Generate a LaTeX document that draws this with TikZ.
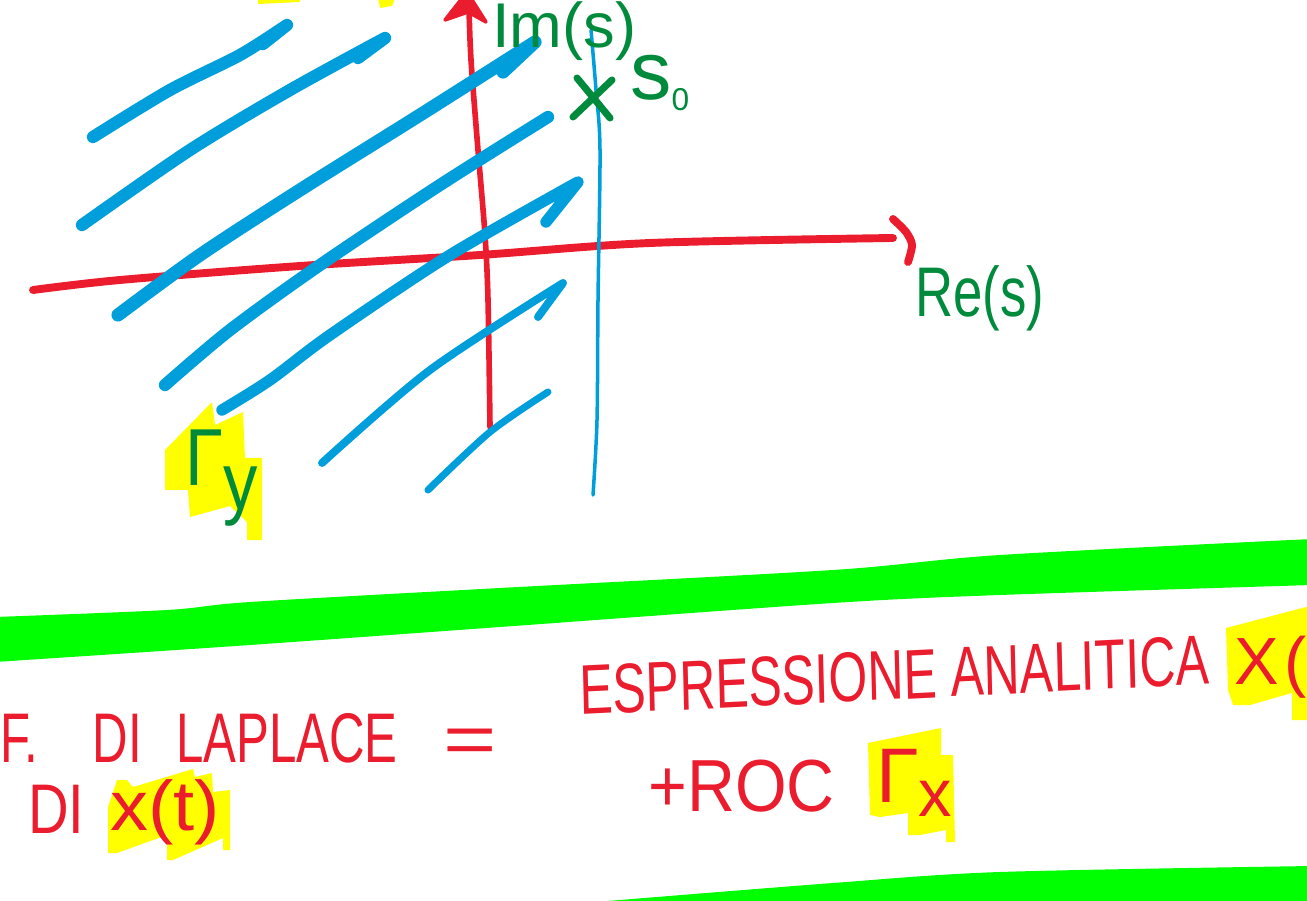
\documentclass[tikz,border=0pt]{standalone}
\usepackage{fontspec}
\setmainfont{Liberation Sans}
\usepackage{xcolor}
\definecolor{inkred}{RGB}{235,28,45}
\definecolor{inkblue}{RGB}{0,158,218}
\definecolor{inkgreen}{RGB}{0,138,60}
\definecolor{bandgreen}{RGB}{0,255,0}
\definecolor{marker}{RGB}{255,255,0}

\begin{document}
\begin{tikzpicture}[
        x=0.02cm, y=-0.02cm,
        ink/.style={line cap=round, line join=round},
        redaxis/.style={ink, draw=inkred},
        rocstroke/.style={ink, draw=inkblue, line width=7pt},
        hand/.style={font=\fontsize{40}{44}\selectfont, inner sep=0pt, anchor=base west},
        redtxt/.style={hand, text=inkred},
        greentxt/.style={hand, text=inkgreen}
      ]
        \useasboundingbox (0,0) rectangle (1307,901);
        \clip (0,0) rectangle (1307,901);

        \fill[marker] (258,-2) -- (258,4) -- (300,2) -- (300,-2) -- cycle;
        \fill[marker] (378,-2) -- (380,8) -- (392,6) -- (395,-2) -- cycle;
        \fill[marker] (165,450) -- (212,402) -- (215,425) -- (243,412) -- (245,458) -- (262,458) -- (262,540) -- (247,540) -- (247,522) -- (230,506) -- (190,517) -- (188,490) -- (165,490) -- cycle;
        \fill[marker] (108,807) -- (117,780) -- (127,780) -- (133,787) -- (193,769) -- (195,777) -- (212,773) -- (213,792) -- (230,790) -- (230,850) -- (223,850) -- (223,838) -- (173,860) -- (167,860) -- (167,835) -- (117,853) -- (108,853) -- cycle;
        \fill[marker] (868,743) -- (941,728) -- (941,755) -- (953,755) -- (955,842) -- (946,842) -- (946,830) -- (920,835) -- (908,835) -- (908,813) -- (880,817) -- (870,815) -- cycle;
        \fill[marker] (1226,628) -- (1310,606) -- (1310,720) -- (1292,720) -- (1292,693) -- (1250,705) -- (1233,705) -- (1228,690) -- cycle;

        \fill[bandgreen] plot[smooth] coordinates {(-5,617) (167,610) (250,602) (500,588) (833,570) (1000,555) (1312,539)}
            -- plot[smooth] coordinates {(1312,585) (1000,595) (833,603) (500,627) (250,645) (-5,662)} -- cycle;
        \fill[bandgreen] plot[smooth] coordinates {(583,903) (833,883) (1000,872) (1312,866)} -- (1312,905) -- cycle;

        \draw[redaxis, line width=3.2pt] plot[smooth] coordinates {(490,427) (488,300) (485,235) (478,150) (471,60) (469,8)};
        \fill[inkred, draw=inkred, ink, line width=2pt] (445,20) -- (467,-8) -- (486,22) -- (468,12) -- cycle;
        \draw[redaxis, line width=4.5pt] plot[smooth] coordinates {(33,290) (120,280) (300,266) (480,255) (650,243) (893,238)};
        \draw[redaxis, line width=4.5pt] plot[smooth] coordinates {(893,219) (906,232) (912,245) (908,262)};

        \draw[ink, draw=inkblue, line width=2pt] plot[smooth] coordinates {(591,30) (596,90) (600,150) (598,300) (597,420) (593,495)};

        \draw[rocstroke] plot[smooth] coordinates {(93,137) (170,90) (240,55) (287,25)} -- (263,44);
        \draw[rocstroke] plot[smooth] coordinates {(82,225) (190,150) (290,90) (385,38)} -- (358,58);
        \draw[rocstroke, line width=7.5pt] plot[smooth] coordinates {(118,315) (200,255) (300,190) (420,115) (535,42)} -- (503,72);
        \draw[rocstroke] plot[smooth] coordinates {(165,385) (230,330) (320,265) (440,185) (548,117)};
        \draw[rocstroke, line width=6.5pt] plot[smooth] coordinates {(222,410) (270,380) (330,335) (450,255) (578,182)} -- (546,222);
        \draw[rocstroke, line width=4.5pt] plot[smooth] coordinates {(322,463) (430,370) (563,283)} -- (538,317);
        \draw[rocstroke, line width=4pt] plot[smooth] coordinates {(428,490) (490,432) (548,392)};

        \draw[ink, draw=inkgreen, line width=4pt] (577,78) -- (610,118);
        \draw[ink, draw=inkgreen, line width=4pt] (612,80) -- (573,117);

        \node[greentxt, font=\fontsize{36}{40}\selectfont] (imlbl) at (492,48) {Im(s)};
        \node[greentxt, font=\fontsize{47}{50}\selectfont] (s0lbl) at (630,100) {s\raisebox{-5.7pt}{\fontsize{18}{18}\selectfont 0}};
        \node[greentxt, xscale=0.75] (relbl) at (915,317) {Re(s)};
        \node[greentxt, font=\fontsize{46}{50}\selectfont, xscale=0.85] (gammay) at (185,485) {Γ\raisebox{-14pt}{y}};

        \node[redtxt, xscale=0.7] (laplace) at (0,762) {F.\hspace{44pt}DI\hspace{28pt}LAPLACE};
        \node[redtxt, xscale=1.3, anchor=base] (eqsign) at (470,763) {=};
        \node[redtxt, xscale=0.8] (dilbl) at (28,833) {DI};
        \node[redtxt, xscale=1.08] (xtlbl) at (110,830) {x(t)};
        \node[redtxt, xscale=0.71, rotate=2] (esprlbl) at (580,715) {ESPRESSIONE ANALITICA};
        \node[redtxt, font=\fontsize{38}{40}\selectfont] (Xlbl) at (1234,684) {X\hspace{3pt}(};
        \node[redtxt, font=\fontsize{42}{44}\selectfont, xscale=0.9] (roclbl) at (648,811) {+ROC};
        \node[redtxt, font=\fontsize{44}{46}\selectfont] (gammax) at (876,802) {Γ\raisebox{-8.5pt}{\fontsize{38}{40}\selectfont x}};
    \end{tikzpicture}
\end{document}
